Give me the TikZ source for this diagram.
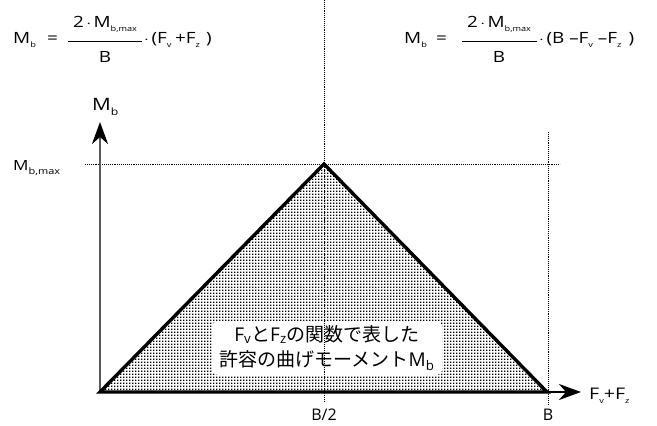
\documentclass[tikz,border=0pt]{standalone}
\usepackage{graphicx}
\usepackage{fontspec}
\setmainfont{Open Sans}
\newfontfamily\jp{Noto Sans CJK JP}
\usetikzlibrary{patterns,arrows.meta}
\newcommand\lowsub[1]{\raisebox{-0.3em}{\fontsize{7.5}{7.5}\selectfont #1}}
\newcommand\lowsubmid[1]{\raisebox{-0.3em}{\fontsize{9}{9}\selectfont #1}}
\newcommand\lowsubbig[1]{\raisebox{-0.3em}{\fontsize{10}{10}\selectfont #1}}
\newcommand\wide[1]{\scalebox{1.22}[1]{#1}}
\pgfdeclarepatternformonly{screendots}{\pgfpointorigin}{\pgfqpoint{3pt}{3pt}}{\pgfqpoint{3pt}{3pt}}{%
  \pgfpathrectangle{\pgfpointorigin}{\pgfqpoint{1.7pt}{1.7pt}}\pgfusepath{fill}}
\begin{document}
\begin{tikzpicture}[x=1pt,y=-1pt,
  dotline/.style={densely dotted, line width=0.9pt},
  ftext/.style={inner sep=0pt, font=\fontsize{15.5}{15.5}\selectfont},
  fbar/.style={line width=0.8pt},
  axlabel/.style={inner sep=0pt, font=\fontsize{16}{16}\selectfont},
  outline/.style={line width=3.4pt, line join=miter},
  axisline/.style={line width=2.2pt, -{Stealth[length=22pt,width=16pt,inset=7pt,color=black]}}]
\useasboundingbox (0,0) rectangle (657,426);
\fill[white] (0,0) rectangle (657,426);

% left formula
\node[ftext, anchor=base west] (l1) at (13,43) {\wide{M\lowsub{b}}};
\node[ftext, anchor=base west] (l2) at (47,43) {\wide{=}};
\node[ftext, anchor=base] (l3) at (105,27) {\wide{2\hspace{2pt}$\cdot$\hspace{2pt}M\lowsub{b,max}}};
\coordinate (l4a) at (68,41);
\coordinate (l4b) at (142,41);
\draw[fbar] (l4a) -- (l4b);
\node[ftext, anchor=base] (l5) at (105,62) {\wide{B}};
\node[ftext, anchor=base west] (l6) at (144,43) {\wide{$\cdot$\hspace{2pt}(F\lowsub{v}\hspace{3pt}+F\lowsub{z}\hspace{5pt})}};

% right formula
\node[ftext, anchor=base west] (r1) at (404,43) {\wide{M\lowsub{b}}};
\node[ftext, anchor=base west] (r2) at (436,43) {\wide{=}};
\node[ftext, anchor=base] (r3) at (499,27) {\wide{2\hspace{2pt}$\cdot$\hspace{2pt}M\lowsub{b,max}}};
\coordinate (r4a) at (462,41);
\coordinate (r4b) at (537,41);
\draw[fbar] (r4a) -- (r4b);
\node[ftext, anchor=base] (r5) at (499,62) {\wide{B}};
\node[ftext, anchor=base west] (r6) at (539,43) {\wide{$\cdot$\hspace{2pt}(B\hspace{4pt}–F\lowsub{v}\hspace{4pt}–F\lowsub{z}\hspace{6pt})}};

% triangle
\coordinate (O) at (100,392);
\coordinate (P) at (324,164);
\coordinate (Bx) at (547,392);
\fill[pattern=screendots, pattern color=black] (O) -- (P) -- (Bx) -- cycle;

% label box
\node[fill=white, rounded corners=7pt, inner sep=0pt, minimum width=231pt, minimum height=54pt, align=center,
      font=\fontsize{19}{25}\selectfont] (lbl) at (327,348)
  {F\textsubscript{v}{\jp と}F\textsubscript{z}{\jp の関数で表した}\\{\jp 許容の曲げモーメント}M\textsubscript{b}};

% dotted guides
\coordinate (gTop) at (324,0);
\coordinate (gBot) at (324,402);
\coordinate (hL) at (85,164);
\coordinate (hR) at (560,164);
\coordinate (bTop) at (548,132);
\coordinate (bBot) at (548,405);
\draw[dotline] (gTop) -- (gBot);
\draw[dotline] (hL) -- (hR);
\draw[dotline] (bTop) -- (bBot);

% axes
\coordinate (yEnd) at (100,122);
\coordinate (xEnd) at (581,392);
\draw[axisline, draw=black!65] (O) -- (yEnd);
\draw[axisline] (O) -- (xEnd);
\draw[outline] (O) -- (P) -- (Bx) -- cycle;

% axis labels
\node[axlabel, font=\fontsize{17}{17}\selectfont, anchor=base west] (mb) at (92,110) {\wide{M\lowsubbig{b}}};
\node[axlabel, font=\fontsize{14}{14}\selectfont, anchor=base west] (mbmax) at (13,170) {\wide{M\lowsubmid{b,max}}};
\node[axlabel, font=\fontsize{16}{16}\selectfont, anchor=base west] (fvfz) at (589,399) {\wide{F\lowsub{v}+F\lowsub{z}}};
\node[axlabel, font=\fontsize{16}{16}\selectfont, anchor=base] (bhalf) at (324,420) {B/2};
\node[axlabel, font=\fontsize{16}{16}\selectfont, anchor=base] (bb) at (548,420) {B};
\end{tikzpicture}
\end{document}
